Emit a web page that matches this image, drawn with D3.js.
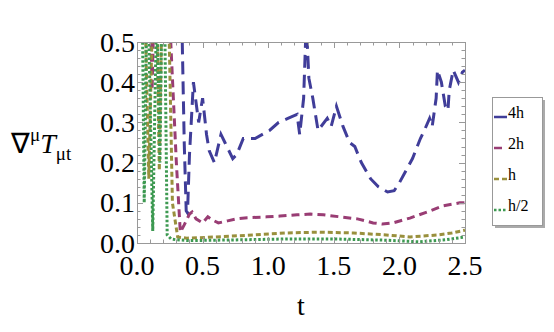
<!DOCTYPE html>
<html>
<head>
<meta charset="utf-8">
<script src="https://cdn.jsdelivr.net/npm/d3@7"></script>
</head>
<body style="margin:0">
<script>
// series names, as in the legend
var seriesNames = ["4h", "2h", "h", "h/2"];

// t values and divergence values (values above 0.5 are clipped)
var t4h = [0.30, 0.345, 0.36, 0.375, 0.385, 0.40, 0.43, 0.47, 0.50, 0.53, 0.55, 0.59, 0.64, 0.67, 0.73, 0.76, 0.81, 0.90, 1.01, 1.08, 1.15, 1.22, 1.24, 1.27, 1.29, 1.31, 1.34, 1.38, 1.45, 1.48, 1.52, 1.57, 1.62, 1.66, 1.71, 1.78, 1.84, 1.91, 1.96, 2.00, 2.05, 2.10, 2.16, 2.19, 2.23, 2.25, 2.28, 2.29, 2.32, 2.35, 2.37, 2.38, 2.41, 2.45, 2.48, 2.50];
var v4h = [0.60, 0.50, 0.25, 0.08, 0.075, 0.22, 0.40, 0.30, 0.36, 0.27, 0.23, 0.20, 0.27, 0.25, 0.21, 0.22, 0.26, 0.26, 0.28, 0.30, 0.31, 0.32, 0.27, 0.36, 0.55, 0.41, 0.36, 0.28, 0.31, 0.29, 0.34, 0.29, 0.25, 0.24, 0.20, 0.16, 0.14, 0.127, 0.13, 0.15, 0.18, 0.21, 0.26, 0.28, 0.31, 0.29, 0.36, 0.43, 0.40, 0.34, 0.33, 0.38, 0.43, 0.40, 0.425, 0.43];

var t2h = [0.10, 0.115, 0.13, 0.25, 0.30, 0.33, 0.36, 0.40, 0.42, 0.45, 0.50, 0.54, 0.57, 0.62, 0.69, 0.76, 0.84, 0.99, 1.09, 1.22, 1.32, 1.42, 1.55, 1.68, 1.80, 1.87, 1.95, 2.08, 2.21, 2.33, 2.46, 2.50];
var v2h = [0.60, 0.38, 0.60, 0.55, 0.20, 0.027, 0.045, 0.072, 0.077, 0.06, 0.05, 0.065, 0.058, 0.05, 0.055, 0.06, 0.063, 0.065, 0.067, 0.07, 0.072, 0.07, 0.065, 0.06, 0.05, 0.047, 0.05, 0.062, 0.077, 0.092, 0.10, 0.10];

var th = [0.06, 0.09, 0.12, 0.15, 0.17, 0.19, 0.24, 0.27, 0.31, 0.38, 0.46, 0.60, 0.89, 1.14, 1.39, 1.65, 1.90, 2.08, 2.29, 2.40, 2.50];
var vh = [0.60, 0.16, 0.60, 0.60, 0.18, 0.60, 0.60, 0.10, 0.015, 0.012, 0.013, 0.015, 0.02, 0.025, 0.027, 0.025, 0.02, 0.015, 0.02, 0.025, 0.032];

var thalf = [0.04, 0.055, 0.075, 0.085, 0.12, 0.15, 0.175, 0.19, 0.21, 0.23, 0.26, 0.30, 0.40, 0.80, 1.14, 1.50, 1.90, 2.15, 2.35, 2.50];
var vhalf = [0.60, 0.10, 0.60, 0.60, 0.03, 0.60, 0.20, 0.60, 0.60, 0.02, 0.01, 0.008, 0.006, 0.008, 0.01, 0.01, 0.007, 0.003, 0.008, 0.015];

var xTicks = [0, 0.5, 1, 1.5, 2, 2.5];
var yTicks = [0, 0.1, 0.2, 0.3, 0.4, 0.5];

var colors = ["#403d99", "#993d74", "#99903d", "#3d9951"];
var dashes = ["13,7", "8,5", "5,3", "2.5,2"];

var W = 554, H = 332;
var margin = { top: 42, right: 89, bottom: 89, left: 137 };
var width = W - margin.left - margin.right,
  height = H - margin.top - margin.bottom;

var svg = d3.select("body").append("svg")
  .attr("width", W)
  .attr("height", H)
  .attr("font-family", "Liberation Serif");

var x = d3.scaleLinear().domain([0, 2.5]).range([0, width]);
var y = d3.scaleLinear().domain([0, 0.5]).range([height, 0]);

svg.append("defs").append("clipPath")
  .attr("id", "clip")
  .append("rect")
  .attr("width", width)
  .attr("height", height);

var g = svg.append("g")
  .attr("transform", "translate(" + margin.left + "," + margin.top + ")");

var series = [
  { t: t4h, v: v4h },
  { t: t2h, v: v2h },
  { t: th, v: vh },
  { t: thalf, v: vhalf }
];

var line = d3.line()
  .x(function(d) { return x(d[0]); })
  .y(function(d) { return y(d[1]); });

var lines = g.append("g").attr("clip-path", "url(#clip)");
series.forEach(function(s, i) {
  lines.append("path")
    .datum(d3.zip(s.t, s.v))
    .attr("fill", "none")
    .attr("stroke", colors[i])
    .attr("stroke-width", 3)
    .attr("stroke-dasharray", dashes[i])
    .attr("d", line);
});

// frame with inward ticks on all sides
var frameColor = "#999";
var xMinor = d3.range(0, 2.5001, 0.1);
var yMinor = d3.range(0, 0.5001, 0.02);

function isMajor(v, step) {
  return Math.abs(v / step - Math.round(v / step)) < 1e-6;
}

var tk = g.append("g").attr("stroke", frameColor).attr("stroke-width", 1);
xMinor.forEach(function(v) {
  var len = isMajor(v, 0.5) ? 6 : 3.5;
  var px = Math.round(x(v)) + 0.5;
  tk.append("line").attr("x1", px).attr("x2", px).attr("y1", height).attr("y2", height - len);
  tk.append("line").attr("x1", px).attr("x2", px).attr("y1", 0).attr("y2", len);
});
yMinor.forEach(function(v) {
  var len = isMajor(v, 0.1) ? 6 : 3.5;
  var py = Math.round(y(v)) + 0.5;
  tk.append("line").attr("x1", 0).attr("x2", len).attr("y1", py).attr("y2", py);
  tk.append("line").attr("x1", width).attr("x2", width - len).attr("y1", py).attr("y2", py);
});

g.append("rect")
  .attr("x", 0.5).attr("y", 0.5)
  .attr("width", width).attr("height", height)
  .attr("fill", "none")
  .attr("stroke", frameColor);

g.selectAll(".xl")
  .data(xTicks)
  .enter().append("text")
  .attr("class", "xl")
  .attr("x", function(d) { return x(d); })
  .attr("y", height + 32)
  .attr("text-anchor", "middle")
  .attr("font-family", "Liberation Serif")
  .attr("font-size", 28)
  .text(function(d) { return d3.format(".1f")(d); });

g.selectAll(".yl")
  .data(yTicks)
  .enter().append("text")
  .attr("class", "yl")
  .attr("x", -2)
  .attr("y", function(d) { return y(d) + 9.5; })
  .attr("text-anchor", "end")
  .attr("font-family", "Liberation Serif")
  .attr("font-size", 28)
  .text(function(d) { return d3.format(".1f")(d); });

// axis titles
svg.append("text")
  .attr("x", 301)
  .attr("y", 315)
  .attr("text-anchor", "middle")
  .attr("font-family", "Liberation Serif")
  .attr("font-size", 28)
  .text("t");

var yt = svg.append("text")
  .attr("x", 11)
  .attr("y", 153)
  .attr("font-family", "Liberation Serif")
  .attr("font-size", 28);
yt.append("tspan").text("\u2207");
yt.append("tspan").attr("font-size", 19).attr("dy", -12).text("\u03bc");
yt.append("tspan").attr("font-style", "italic").attr("dy", 12).text("T");
yt.append("tspan").attr("font-size", 19).attr("dy", 7).text("\u03bct");

// legend
var lg = svg.append("g").attr("transform", "translate(492,97)");
lg.append("rect")
  .attr("x", 3).attr("y", 3)
  .attr("width", 50).attr("height", 128)
  .attr("fill", "#aaa");
lg.append("rect")
  .attr("x", 0.5).attr("y", 0.5)
  .attr("width", 50).attr("height", 128)
  .attr("fill", "#fff")
  .attr("stroke", "#999");

var legendY = [20, 51, 82, 113];
seriesNames.forEach(function(name, i) {
  lg.append("line")
    .attr("x1", 2).attr("x2", 15)
    .attr("y1", legendY[i]).attr("y2", legendY[i])
    .attr("stroke", colors[i])
    .attr("stroke-width", 2.5)
    .attr("stroke-dasharray", i === 0 ? "13,0" : dashes[i]);
  lg.append("text")
    .attr("x", 16)
    .attr("y", legendY[i] + 1)
    .attr("font-family", "Liberation Serif")
    .attr("font-size", 16)
    .text(name);
});
</script>
</body>
</html>
